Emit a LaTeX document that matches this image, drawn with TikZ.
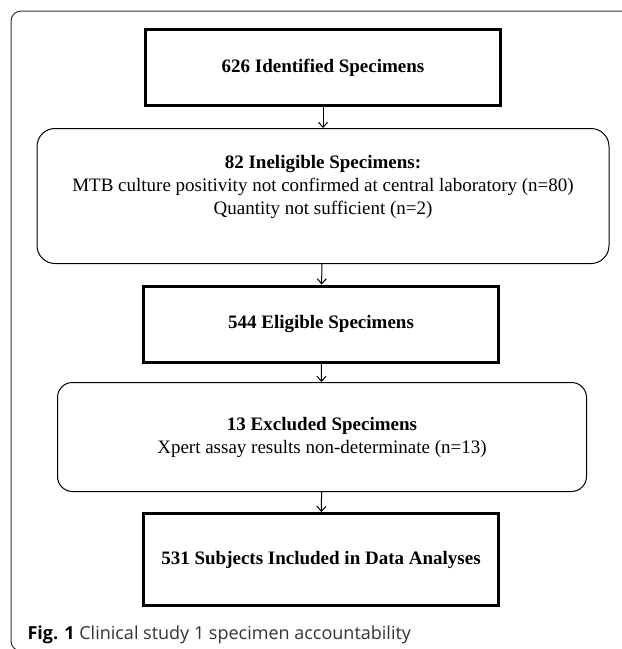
\documentclass[tikz,border=0pt]{standalone}
\usepackage{fontspec}
\setmainfont{Liberation Serif}
\newfontfamily\capfont{Open Sans}
\usetikzlibrary{arrows.meta, positioning}

\begin{document}
\begin{tikzpicture}[->,>={Straight Barb[length=5pt,width=9pt]},x=1pt,y=-1pt,
  line width=1pt,font=\fontsize{19}{23}\selectfont,
  main box/.style={rectangle,draw,line width=3pt,minimum width=355pt,
    minimum height=76pt,font=\fontsize{19}{23}\selectfont\bfseries},
  side box/.style={rectangle,draw,rounded corners=18pt,align=center}]

  \useasboundingbox (0,0) rectangle (622,649);
  \draw[-,draw=black!80,rounded corners=10pt] (11,11) rectangle (700,651);

  \node[main box] (ident) at (323,67.5) {626 Identified Specimens};
  \node[side box,minimum width=572pt,minimum height=135pt,text depth=22pt] (inel) at (323,196)
    {\textbf{82 Ineligible Specimens:}\\
     MTB culture positivity not confirmed at central laboratory (n=80)\\
     Quantity not sufficient (n=2)};
  \node[main box] (elig) at (321,324) {544 Eligible Specimens};
  \node[side box,minimum width=529pt,minimum height=109pt,rounded corners=15pt] (excl) at (322,437)
    {\textbf{13 Excluded Specimens}\\
     Xpert assay results non-determinate (n=13)};
  \node[main box,minimum height=92pt] (incl) at (321,559.5) {531 Subjects Included in Data Analyses};

  \path (ident) edge (inel)
        (inel) edge (elig)
        (elig) edge (excl)
        (excl) edge (incl);

  % figure caption
  \node[anchor=base west,inner sep=0,font=\capfont\fontsize{18}{21}\selectfont,text=black!80]
    (caption) at (27,639) {{\color{black}\bfseries Fig. 1} Clinical study 1 specimen accountability};
\end{tikzpicture}
\end{document}
